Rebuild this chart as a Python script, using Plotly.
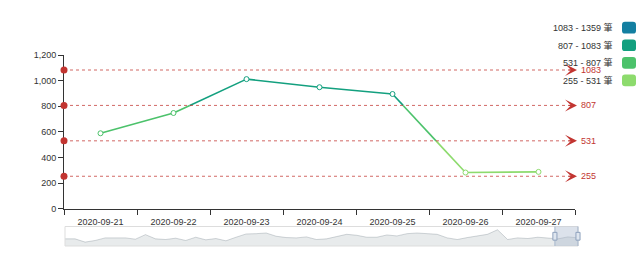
import plotly.graph_objects as go

# ---------------- data ----------------
dates = ["2020-09-21", "2020-09-22", "2020-09-23", "2020-09-24",
         "2020-09-25", "2020-09-26", "2020-09-27"]
counts = [590, 748, 1012, 949, 896, 284, 289]

piece_bounds = [255, 531, 807, 1083, 1359]
piece_colors = ["#8ddb6d", "#4cc26b", "#13a07f", "#137fa1"]   # low -> high
piece_labels = ["255 - 531 筆", "531 - 807 筆", "807 - 1083 筆", "1083 - 1359 筆"]

markline_values = [1083, 807, 531, 255]

y_tick_values = [0, 200, 400, 600, 800, 1000, 1200]

overview_values = [22, 22, 12, 17, 25, 24, 25, 21, 35, 22, 20, 24, 17, 27, 19, 23,
                   16, 27, 37, 38, 40, 30, 26, 25, 28, 20, 22, 29, 36, 33, 27, 27,
                   34, 31, 38, 40, 38, 36, 25, 20, 26, 30, 36, 50, 20, 25, 23, 27,
                   25, 22, 28, 25]

# ---------------- geometry helpers ----------------
W, H = 640, 257
ML, MR, MT, MB = 64, 62, 55, 6
PW, PH = W - ML - MR, H - MT - MB


def px_x(px):
    return (px - ML) / PW


def px_y(py):
    return (H - MB - py) / PH


def round_rect_path(x0, y0, x1, y1, r):
    X = px_x
    Y = px_y
    pts = [
        f"M{X(x0 + r)},{Y(y0)}",
        f"L{X(x1 - r)},{Y(y0)}",
        f"Q{X(x1)},{Y(y0)} {X(x1)},{Y(y0 + r)}",
        f"L{X(x1)},{Y(y1 - r)}",
        f"Q{X(x1)},{Y(y1)} {X(x1 - r)},{Y(y1)}",
        f"L{X(x0 + r)},{Y(y1)}",
        f"Q{X(x0)},{Y(y1)} {X(x0)},{Y(y1 - r)}",
        f"L{X(x0)},{Y(y0 + r)}",
        f"Q{X(x0)},{Y(y0)} {X(x0 + r)},{Y(y0)}",
    ]
    return " ".join(pts) + " Z"


FONT = "Liberation Sans, Arial, Noto Sans CJK TC, sans-serif"
TXT = "#333333"
RED = "#c23531"


def color_for(v):
    for i in range(len(piece_colors)):
        if v < piece_bounds[i + 1]:
            return piece_colors[i]
    return piece_colors[-1]


fig = go.Figure()

# invisible trace to create the category axis
fig.add_trace(go.Scatter(x=dates, y=counts, xaxis="x", yaxis="y", mode="markers",
                         marker=dict(opacity=0), hoverinfo="skip", showlegend=False))

# line segments coloured by visual-map piece
idx = list(range(len(dates)))
for i in range(len(counts) - 1):
    v0, v1 = counts[i], counts[i + 1]
    ts = [0.0, 1.0]
    for b in piece_bounds:
        if (v0 - b) * (v1 - b) < 0:
            ts.append((b - v0) / (v1 - v0))
    ts.sort()
    for a, c in zip(ts[:-1], ts[1:]):
        xa, xb = idx[i] + a, idx[i] + c
        va, vb = v0 + a * (v1 - v0), v0 + c * (v1 - v0)
        fig.add_trace(go.Scatter(x=[xa, xb], y=[va, vb], xaxis="x2", yaxis="y",
                                 mode="lines", line=dict(color=color_for((va + vb) / 2), width=1.6),
                                 hoverinfo="skip", showlegend=False))

# points
fig.add_trace(go.Scatter(x=idx, y=counts, xaxis="x2", yaxis="y", mode="markers",
                         marker=dict(symbol="circle", size=5, color="white",
                                     line=dict(color=[color_for(v) for v in counts], width=1)),
                         showlegend=False))

# mark lines
x_lo, x_hi = -0.5, len(dates) - 0.5
for v in markline_values:
    fig.add_shape(type="line", xref="x domain", yref="y", x0=0, x1=1, y0=v, y1=v,
                  line=dict(color="rgba(194,53,49,0.75)", width=1, dash="3px,3px"), layer="above")
    fig.add_annotation(xref="x domain", yref="y", x=1, y=v, text="", showarrow=True,
                       ax=-10, ay=0, xshift=2, arrowhead=3, arrowsize=2.0, arrowwidth=1,
                       arrowcolor=RED, standoff=0)
    fig.add_annotation(xref="x domain", yref="y", x=1, y=v, text=str(v), showarrow=False,
                       xanchor="left", xshift=4, font=dict(family=FONT, size=9, color=RED))
fig.add_trace(go.Scatter(x=[x_lo] * len(markline_values), y=markline_values, xaxis="x2", yaxis="y",
                         mode="markers", marker=dict(symbol="circle", size=7, color=RED),
                         cliponaxis=False, showlegend=False, hoverinfo="skip"))

# visual map legend (top-right)
row_y = [27, 45, 63, 81]
for k, (lab, col) in enumerate(zip(piece_labels[::-1], piece_colors[::-1])):
    cy = row_y[k]
    fig.add_annotation(xref="paper", yref="paper", x=px_x(615), y=px_y(cy), text=lab,
                       showarrow=False, xanchor="right", yanchor="middle",
                       font=dict(family=FONT, size=9, color=TXT))
    fig.add_shape(type="path", xref="paper", yref="paper",
                  path=round_rect_path(622, cy - 6, 636, cy + 6, 3),
                  fillcolor=col, line=dict(width=0))

# data-zoom overview
oi = list(range(len(overview_values)))
fig.add_trace(go.Scatter(x=oi, y=overview_values, xaxis="x4", yaxis="y4", mode="lines",
                         fill="tozeroy", fillcolor="rgba(47,69,84,0.11)",
                         line=dict(color="rgba(47,69,84,0.30)", width=0.7),
                         hoverinfo="skip", showlegend=False))
fig.add_shape(type="rect", xref="x4 domain", yref="y4 domain", x0=0, x1=1, y0=0, y1=1,
              line=dict(color="#dddddd", width=1), fillcolor="rgba(0,0,0,0)")
win0, win1 = 0.955, 1.0
fig.add_shape(type="rect", xref="x4 domain", yref="y4 domain", x0=win0, x1=win1, y0=0, y1=1,
              line=dict(width=0), fillcolor="rgba(167,183,204,0.4)")
for wx in (win0, win1):
    fig.add_shape(type="line", xref="x4 domain", yref="y4 domain", x0=wx, x1=wx, y0=0, y1=1,
                  line=dict(color="#a7b7cc", width=1))
    fig.add_shape(type="rect", xref="x4 domain", yref="y4 domain", x0=wx - 0.004, x1=wx + 0.004,
                  y0=0.3, y1=0.7, line=dict(color="#8fa2bd", width=1), fillcolor="#dfe6ef")

axis_common = dict(showgrid=False, zeroline=False)
fig.update_layout(
    width=W, height=H,
    margin=dict(l=ML, r=MR, t=MT, b=MB),
    paper_bgcolor="white", plot_bgcolor="white",
    showlegend=False,
    font=dict(family=FONT, size=9, color=TXT),
    xaxis=dict(domain=[0, px_x(575)], anchor="y", type="category", categoryarray=dates,
               range=[x_lo, x_hi], tickson="boundaries", ticks="outside", ticklen=5,
               tickcolor=TXT, showline=True, linecolor=TXT, linewidth=1, ticklabelstandoff=4,
               tickfont=dict(family=FONT, size=9, color=TXT), fixedrange=True, **axis_common),
    xaxis2=dict(overlaying="x", range=[x_lo, x_hi], visible=False, **axis_common),
    yaxis=dict(domain=[px_y(213), 1], anchor="x", range=[0, 1200], tickvals=y_tick_values,
               tickformat=",", ticks="outside", ticklen=5, tickcolor=TXT, showline=True,
               linecolor=TXT, linewidth=1, layer="below traces",
               tickfont=dict(family=FONT, size=9, color=TXT), **axis_common),
    xaxis4=dict(domain=[px_x(65), 1], anchor="y4", range=[0, len(overview_values) - 1],
                visible=False, **axis_common),
    yaxis4=dict(domain=[0, px_y(231)], anchor="x4", range=[0, 60], visible=False, **axis_common),
)

fig.write_html("out.html")
